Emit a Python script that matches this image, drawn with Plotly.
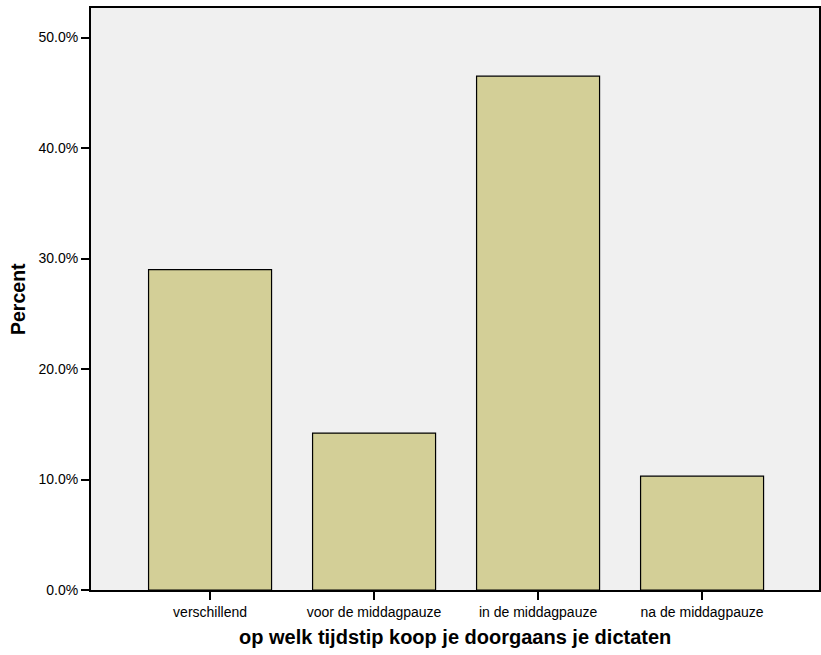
import plotly.graph_objects as go

categories = ["verschillend", "voor de middagpauze", "in de middagpauze", "na de middagpauze"]
percent = [29.0, 14.2, 46.5, 10.3]
y_ticks = [0, 10, 20, 30, 40, 50]
y_tick_labels = ["0.0%", "10.0%", "20.0%", "30.0%", "40.0%", "50.0%"]
x_title = "op welk tijdstip koop je doorgaans je dictaten"
y_title = "Percent"

W, H = 821, 655

fig = go.Figure()
fig.add_trace(go.Bar(
    x=categories,
    y=percent,
    width=0.75,
    marker=dict(color="#d3cf97", line=dict(color="black", width=1.2)),
))

fig.update_layout(
    width=W, height=H, autosize=False,
    margin=dict(l=91, r=2, t=8, b=65, autoexpand=False),
    paper_bgcolor="white",
    plot_bgcolor="#f0f0f0",
    showlegend=False,
    font=dict(family="Liberation Sans, Arial, sans-serif", color="black", size=14),
    xaxis=dict(
        range=[-0.726, 3.713],
        showline=True, linecolor="black", linewidth=2, mirror=True,
        ticks="outside", ticklen=8, tickwidth=2, tickcolor="black",
        showgrid=False, automargin=False,
        tickfont=dict(size=14),
    ),
    yaxis=dict(
        range=[0, 52.67],
        tickvals=y_ticks,
        ticktext=y_tick_labels,
        showline=True, linecolor="black", linewidth=2, mirror=True,
        ticks="outside", ticklen=8, tickwidth=2, tickcolor="black",
        showgrid=False, zeroline=False, automargin=False,
        tickfont=dict(size=14),
    ),
    annotations=[
        dict(text="<b>" + x_title + "</b>", xref="paper", yref="paper",
             x=0.5, y=0, yshift=-47, xanchor="center", yanchor="middle",
             showarrow=False, font=dict(size=20)),
        dict(text="<b>" + y_title + "</b>", xref="paper", yref="paper",
             x=0, y=0.5, xshift=-73, xanchor="center", yanchor="middle",
             textangle=-90, showarrow=False, font=dict(size=19.5)),
    ],
)

post = (
    "document.documentElement.style.margin='0';"
    "document.body.style.margin='0';"
    "document.body.style.overflow='hidden';"
    "var gd=document.getElementById('{plot_id}');"
    "gd.style.width='%dpx';gd.style.height='%dpx';"
    "Plotly.relayout(gd,{width:%d,height:%d});" % (W, H, W, H)
)

fig.write_html("out.html",
               config={"responsive": False, "displayModeBar": False},
               post_script=post)
